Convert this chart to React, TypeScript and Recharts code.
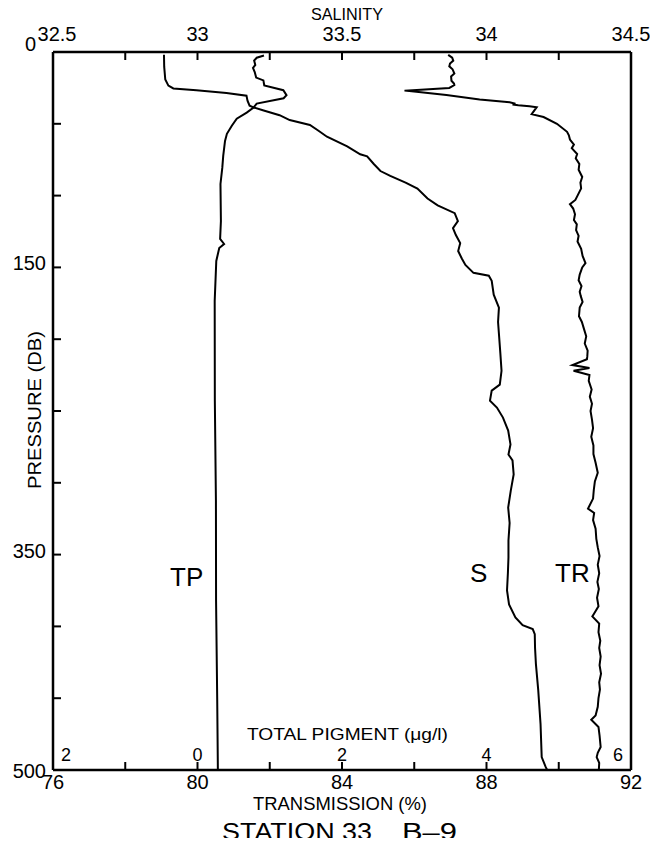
import { ScatterChart, Scatter, XAxis, YAxis } from 'recharts';

const FONT = '"Liberation Sans", Arial, sans-serif';

// axis ticks and labels
const pressureTicks = [0, 50, 100, 150, 200, 250, 300, 350, 400, 450, 500];
const pressureLabels = [0, 150, 350, 500];
const salinityTicks = [32.5, 32.75, 33, 33.25, 33.5, 33.75, 34, 34.25, 34.5];
const salinityLabels = [32.5, 33, 33.5, 34, 34.5];
const transTicks = [76, 78, 80, 82, 84, 86, 88, 90, 92];
const transLabels = [76, 80, 84, 88, 92];
const pigmentLabels = ['2', '0', '2', '4', '6'];

// salinity profile (p = pressure, s = salinity)
const salinity = [
  { p: 2.4, s: 33.23 }, { p: 4, s: 33.205 }, { p: 6, s: 33.196 }, { p: 9, s: 33.2 },
  { p: 11, s: 33.192 }, { p: 14, s: 33.198 }, { p: 17.8, s: 33.203 }, { p: 19.8, s: 33.228 },
  { p: 23.3, s: 33.231 }, { p: 26.6, s: 33.297 }, { p: 30, s: 33.308 }, { p: 32.2, s: 33.298 },
  { p: 35.9, s: 33.205 }, { p: 38.6, s: 33.194 }, { p: 40.7, s: 33.229 }, { p: 44, s: 33.284 },
  { p: 47.4, s: 33.319 }, { p: 50.8, s: 33.389 }, { p: 55, s: 33.42 }, { p: 59, s: 33.448 },
  { p: 65.7, s: 33.518 }, { p: 71.2, s: 33.563 }, { p: 72.6, s: 33.587 }, { p: 78, s: 33.61 },
  { p: 82.9, s: 33.633 }, { p: 86.3, s: 33.667 }, { p: 91, s: 33.72 }, { p: 95.1, s: 33.761 },
  { p: 102, s: 33.796 }, { p: 106.8, s: 33.831 }, { p: 112.2, s: 33.89 }, { p: 117.8, s: 33.901 },
  { p: 122.6, s: 33.884 }, { p: 127.5, s: 33.894 }, { p: 133.1, s: 33.909 }, { p: 138.6, s: 33.902 },
  { p: 144, s: 33.915 }, { p: 148.3, s: 33.927 }, { p: 153.8, s: 33.955 }, { p: 155.8, s: 34.008 },
  { p: 159.3, s: 34.018 }, { p: 169, s: 34.025 }, { p: 178, s: 34.043 }, { p: 188, s: 34.04 },
  { p: 199, s: 34.044 }, { p: 210, s: 34.048 }, { p: 222, s: 34.052 }, { p: 231.6, s: 34.046 },
  { p: 235.8, s: 34.018 }, { p: 242.8, s: 34.012 }, { p: 247.6, s: 34.036 }, { p: 254.6, s: 34.057 },
  { p: 263.6, s: 34.075 }, { p: 273.3, s: 34.083 }, { p: 280.3, s: 34.076 }, { p: 284.4, s: 34.09 },
  { p: 294.2, s: 34.094 }, { p: 305.4, s: 34.084 }, { p: 317.2, s: 34.075 }, { p: 328, s: 34.08 },
  { p: 340.2, s: 34.076 }, { p: 352, s: 34.076 }, { p: 363, s: 34.074 }, { p: 375, s: 34.071 },
  { p: 384.7, s: 34.078 }, { p: 393.7, s: 34.1 }, { p: 399.2, s: 34.125 }, { p: 401.9, s: 34.16 },
  { p: 405.4, s: 34.167 }, { p: 415, s: 34.168 }, { p: 426.3, s: 34.171 }, { p: 444.4, s: 34.179 },
  { p: 468, s: 34.187 }, { p: 491, s: 34.191 }, { p: 498, s: 34.205 }, { p: 500, s: 34.21 },
];

// transmission profile (t = %)
const transmission = [
  { p: 2, t: 86.94 }, { p: 4, t: 87.05 }, { p: 6, t: 87.08 }, { p: 8, t: 86.99 },
  { p: 10, t: 86.97 }, { p: 12, t: 87.06 }, { p: 15, t: 87.11 }, { p: 17, t: 87.02 },
  { p: 20, t: 87.03 }, { p: 22, t: 87.1 }, { p: 23, t: 87.11 }, { p: 25, t: 86.97 },
  { p: 26.9, t: 85.73 }, { p: 27.6, t: 86.06 }, { p: 30, t: 86.89 }, { p: 33, t: 87.81 },
  { p: 35, t: 88.64 }, { p: 36, t: 88.8 }, { p: 36.5, t: 88.72 }, { p: 37, t: 88.88 },
  { p: 37.7, t: 89.19 }, { p: 38.4, t: 89.39 }, { p: 43.3, t: 89.25 }, { p: 45.3, t: 89.58 },
  { p: 50, t: 89.95 }, { p: 55.6, t: 90.23 }, { p: 58, t: 90.28 }, { p: 61, t: 90.31 },
  { p: 64.5, t: 90.42 }, { p: 67, t: 90.36 }, { p: 71, t: 90.51 }, { p: 74, t: 90.47 },
  { p: 78, t: 90.57 }, { p: 82, t: 90.55 }, { p: 87, t: 90.65 }, { p: 91, t: 90.6 },
  { p: 95, t: 90.62 }, { p: 100, t: 90.52 }, { p: 103, t: 90.46 }, { p: 106, t: 90.31 },
  { p: 109, t: 90.4 }, { p: 113, t: 90.45 }, { p: 117, t: 90.42 }, { p: 120, t: 90.5 },
  { p: 124, t: 90.48 }, { p: 128, t: 90.55 }, { p: 132, t: 90.52 }, { p: 137, t: 90.62 },
  { p: 142, t: 90.66 }, { p: 147, t: 90.74 }, { p: 150, t: 90.65 }, { p: 155, t: 90.58 },
  { p: 159, t: 90.55 }, { p: 163, t: 90.63 }, { p: 167, t: 90.58 }, { p: 170, t: 90.61 },
  { p: 174, t: 90.66 }, { p: 178, t: 90.58 }, { p: 184, t: 90.56 }, { p: 188, t: 90.64 },
  { p: 193, t: 90.7 }, { p: 198, t: 90.76 }, { p: 203, t: 90.72 }, { p: 208, t: 90.8 },
  { p: 212, t: 90.79 }, { p: 214, t: 90.78 }, { p: 218, t: 90.38 }, { p: 220, t: 90.85 },
  { p: 222, t: 90.41 }, { p: 225, t: 90.85 }, { p: 229, t: 90.83 }, { p: 235, t: 90.91 },
  { p: 240, t: 90.86 }, { p: 245, t: 90.92 }, { p: 250, t: 90.88 }, { p: 256, t: 90.92 },
  { p: 262, t: 90.95 }, { p: 268, t: 90.9 }, { p: 274, t: 90.96 }, { p: 280, t: 90.96 },
  { p: 286, t: 91.02 }, { p: 293, t: 91.08 }, { p: 299, t: 91.0 }, { p: 305, t: 90.97 },
  { p: 311, t: 90.95 }, { p: 316, t: 90.85 }, { p: 318, t: 90.81 }, { p: 321, t: 90.98 },
  { p: 326, t: 90.95 }, { p: 332, t: 91.02 }, { p: 339, t: 91.04 }, { p: 345, t: 91.08 },
  { p: 351, t: 91.13 }, { p: 357, t: 91.08 }, { p: 363, t: 91.12 }, { p: 369, t: 91.07 },
  { p: 374, t: 91.11 }, { p: 380, t: 91.06 }, { p: 386, t: 91.1 }, { p: 391, t: 90.98 },
  { p: 393, t: 90.93 }, { p: 398, t: 91.12 }, { p: 404, t: 91.1 }, { p: 410, t: 91.15 },
  { p: 415, t: 91.12 }, { p: 421, t: 91.16 }, { p: 427, t: 91.13 }, { p: 433, t: 91.17 },
  { p: 439, t: 91.12 }, { p: 444, t: 91.14 }, { p: 450, t: 91.1 }, { p: 456, t: 91.08 },
  { p: 462, t: 91.02 }, { p: 465, t: 90.9 }, { p: 470, t: 91.1 }, { p: 476, t: 91.13 },
  { p: 484, t: 91.16 }, { p: 488, t: 91.08 }, { p: 491, t: 91.05 }, { p: 495, t: 91.12 },
  { p: 500, t: 91.11 },
];

// total pigment profile (q = µg/l)
const pigment = [
  { p: 1.9, q: -0.464 }, { p: 10.2, q: -0.461 }, { p: 19.2, q: -0.446 }, { p: 23.4, q: -0.403 },
  { p: 25.4, q: -0.334 }, { p: 26.6, q: -0.015 }, { p: 28.5, q: 0.401 }, { p: 30.4, q: 0.678 },
  { p: 33.9, q: 0.692 }, { p: 37.4, q: 0.721 }, { p: 38.6, q: 0.777 }, { p: 42.2, q: 0.681 },
  { p: 46.4, q: 0.543 }, { p: 51.4, q: 0.475 }, { p: 57, q: 0.407 }, { p: 61.9, q: 0.381 },
  { p: 72.4, q: 0.356 }, { p: 80.7, q: 0.343 }, { p: 91.9, q: 0.318 }, { p: 117.7, q: 0.324 },
  { p: 130.2, q: 0.313 }, { p: 133.7, q: 0.368 }, { p: 136.5, q: 0.301 }, { p: 145.5, q: 0.26 },
  { p: 173.4, q: 0.238 }, { p: 243, q: 0.24 }, { p: 312.7, q: 0.255 }, { p: 382.3, q: 0.257 },
  { p: 452, q: 0.273 }, { p: 500, q: 0.282 },
];

// recharts hands custom ticks a point tickSize + tickMargin away from the axis line
const TICK_OFF = 8;
const TICK_LEN = 8;

const noDot = () => <g />;

function SalinityTick({ x, y, payload }: any) {
  const ay = y + TICK_OFF;
  const show = salinityLabels.includes(payload.value);
  const dx = payload.value === salinityLabels[0] ? 4 : 0;
  return (
    <g>
      <line x1={x} y1={ay} x2={x} y2={ay + TICK_LEN} stroke="#000" strokeWidth={2} />
      {show && (
        <text x={x + dx} y={ay - 11} textAnchor="middle" fontSize={20} fontFamily={FONT} fill="#000">
          {String(payload.value)}
        </text>
      )}
    </g>
  );
}

function TransTick({ x, y, payload }: any) {
  const ay = y - TICK_OFF;
  const i = transLabels.indexOf(payload.value);
  const dx = i === 0 ? 13 : i === transLabels.length - 1 ? -13 : 0;
  return (
    <g>
      <line x1={x} y1={ay} x2={x} y2={ay - TICK_LEN} stroke="#000" strokeWidth={2} />
      {i >= 0 && (
        <>
          <text x={x} y={ay + 19} textAnchor="middle" fontSize={20} fontFamily={FONT} fill="#000">
            {payload.value}
          </text>
          <text x={x + dx} y={ay - 9} textAnchor="middle" fontSize={18} fontFamily={FONT} fill="#000">
            {pigmentLabels[i]}
          </text>
        </>
      )}
    </g>
  );
}

function PressureTick({ x, y, payload }: any) {
  const ax = x + TICK_OFF;
  const v = payload.value;
  const show = pressureLabels.includes(v);
  const dy = v === 500 ? 8 : v === 0 ? -1 : 3;
  const dx = v === 0 ? 17 : 7;
  return (
    <g>
      <line x1={ax} y1={y} x2={ax + TICK_LEN} y2={y} stroke="#000" strokeWidth={2} />
      {show && (
        <text x={ax - dx} y={y + dy} textAnchor="end" fontSize={20} fontFamily={FONT} fill="#000">
          {v}
        </text>
      )}
    </g>
  );
}

function RightTick({ x, y }: any) {
  const ax = x - TICK_OFF;
  return <line x1={ax} y1={y} x2={ax - TICK_LEN} y2={y} stroke="#000" strokeWidth={2} />;
}

const axisLine = { stroke: '#000', strokeWidth: 2.5 };

export default function App() {
  return (
    <div style={{ position: 'relative', width: 642, height: 830, background: '#fff' }}>
      <ScatterChart width={642} height={830} margin={{ top: 0, right: 0, bottom: 0, left: 0 }}>
        <XAxis
          xAxisId="sal"
          orientation="top"
          type="number"
          dataKey="s"
          domain={[32.5, 34.5]}
          ticks={salinityTicks}
          interval={0}
          height={44}
          tickSize={6}
          tickMargin={2}
          tickLine={false}
          axisLine={axisLine}
          tick={<SalinityTick />}
        />
        <XAxis
          xAxisId="tr"
          orientation="bottom"
          type="number"
          dataKey="t"
          domain={[76, 92]}
          ticks={transTicks}
          interval={0}
          height={68}
          tickSize={6}
          tickMargin={2}
          tickLine={false}
          axisLine={axisLine}
          tick={<TransTick />}
        />
        <XAxis xAxisId="pig" orientation="top" type="number" dataKey="q" domain={[-2, 6]} height={0} hide />
        <YAxis
          yAxisId="p"
          type="number"
          dataKey="p"
          domain={[0, 500]}
          reversed
          ticks={pressureTicks}
          interval={0}
          width={45}
          tickSize={6}
          tickMargin={2}
          tickLine={false}
          axisLine={axisLine}
          tick={<PressureTick />}
        />
        <YAxis
          yAxisId="r"
          orientation="right"
          type="number"
          dataKey="p"
          domain={[0, 500]}
          reversed
          ticks={pressureTicks}
          interval={0}
          width={19}
          tickSize={6}
          tickMargin={2}
          tickLine={false}
          axisLine={axisLine}
          tick={<RightTick />}
        />
        <Scatter
          data={pigment}
          xAxisId="pig"
          yAxisId="p"
          line={{ stroke: '#000', strokeWidth: 2 }}
          shape={noDot}
          isAnimationActive={false}
        />
        <Scatter
          data={salinity}
          xAxisId="sal"
          yAxisId="p"
          line={{ stroke: '#000', strokeWidth: 2 }}
          shape={noDot}
          isAnimationActive={false}
        />
        <Scatter
          data={transmission}
          xAxisId="tr"
          yAxisId="p"
          line={{ stroke: '#000', strokeWidth: 2 }}
          shape={noDot}
          isAnimationActive={false}
        />
      </ScatterChart>
      <svg
        width={642}
        height={830}
        style={{ position: 'absolute', left: 0, top: 0, overflow: 'visible', pointerEvents: 'none' }}
        fontFamily={FONT}
        fill="#000"
      >
        <text x={339} y={12} textAnchor="middle" fontSize={17} textLength={72} lengthAdjust="spacingAndGlyphs">
          SALINITY
        </text>
        <text
          x={33}
          y={402}
          textAnchor="middle"
          fontSize={18}
          transform="rotate(-90 33 402)"
          textLength={158}
          lengthAdjust="spacingAndGlyphs"
        >
          PRESSURE (DB)
        </text>
        <text x={239} y={732} fontSize={17} textLength={201} lengthAdjust="spacingAndGlyphs">
          TOTAL PIGMENT (μg/l)
        </text>
        <text x={245} y={802} fontSize={18} textLength={174} lengthAdjust="spacingAndGlyphs">
          TRANSMISSION (%)
        </text>
        <text x={214} y={832} fontSize={24} textLength={150} lengthAdjust="spacingAndGlyphs">
          STATION 33
        </text>
        <text x={394} y={832} fontSize={24} textLength={55} lengthAdjust="spacingAndGlyphs">
          B–9
        </text>
        <text x={162} y={578} fontSize={26}>
          TP
        </text>
        <text x={462} y={574} fontSize={26}>
          S
        </text>
        <text x={547} y={574} fontSize={26}>
          TR
        </text>
      </svg>
    </div>
  );
}
